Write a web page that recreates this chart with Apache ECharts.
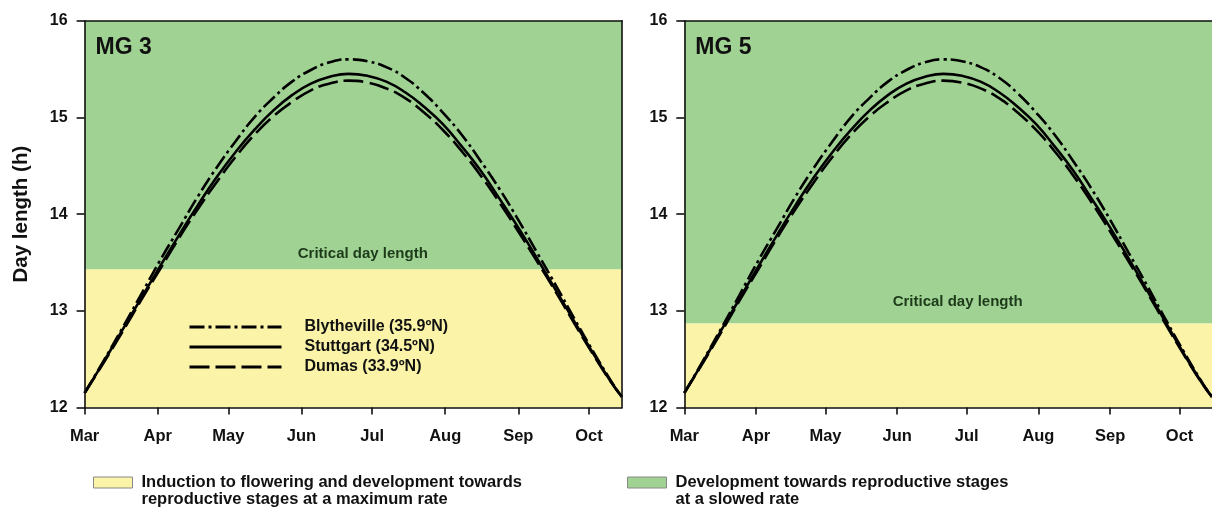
<!DOCTYPE html>
<html><head><meta charset="utf-8">
<script src="https://cdn.jsdelivr.net/npm/echarts@6/dist/echarts.min.js"></script>
<style>html,body{margin:0;padding:0;background:#fff}#c{width:1212px;height:508px}</style>
</head><body><div id="c"></div><script>
// day of season, counted from 1 March
const days = [0,8,16,24,32,40,48,56,64,72,80,88,96,104,112,120,128,136,144,152,160,168,176,184,192,200,208,216,224,228];
const blytheville = [12.15,12.48,12.82,13.17,13.52,13.85,14.18,14.48,14.75,15.00,15.20,15.37,15.49,15.57,15.60,15.58,15.52,15.41,15.25,15.05,14.82,14.55,14.26,13.94,13.60,13.26,12.91,12.57,12.25,12.11];
const stuttgart   = [12.15,12.47,12.80,13.13,13.46,13.78,14.09,14.38,14.64,14.87,15.07,15.23,15.35,15.42,15.45,15.43,15.37,15.26,15.11,14.93,14.70,14.45,14.16,13.86,13.54,13.21,12.88,12.55,12.24,12.11];
const dumas       = [12.15,12.46,12.78,13.11,13.43,13.75,14.05,14.33,14.59,14.82,15.01,15.16,15.28,15.35,15.38,15.36,15.30,15.20,15.05,14.87,14.65,14.40,14.12,13.82,13.51,13.19,12.86,12.54,12.24,12.11];
const monthTicks  = [0,31,61,92,122,153,184,214];
const monthLabels = ['Mar','Apr','May','Jun','Jul','Aug','Sep','Oct'];
const panelTitles = ['MG 3','MG 5'];
const criticalDayLength = [13.43, 12.87];
const xMin = 0, xMax = 228, yMin = 12, yMax = 16, yStep = 1;
const curveNames = ['Blytheville (35.9ºN)','Stuttgart (34.5ºN)','Dumas (33.9ºN)'];
const zoneNames = ['Induction to flowering and development towards\nreproductive stages at a maximum rate',
                   'Development towards reproductive stages\nat a slowed rate'];

const FONT = '"Liberation Sans", Arial, sans-serif';
const INK = '#111';
const YELLOW = '#faf3a8', GREEN = '#a0d393';

const toPairs = arr => days.map((d,i)=>[d, arr[i]]);
const curveData = [blytheville, stuttgart, dumas];
const curveTypes = [[15,4,3,4],'solid',[20,6]];

const grids = [
  {left: 84.6, top: 20.7, width: 537.4, height: 386.8},
  {left: 684.3, top: 20.7, width: 537.5, height: 386.8}
];

const xAxes = [], yAxes = [], series = [];
grids.forEach((g, gi) => {
  xAxes.push({
    type:'value', gridIndex: gi, min: xMin, max: xMax, z: 5,
    axisLine:{show:true, onZero:false, lineStyle:{color:INK, width:1.6}},
    axisTick:{show:true, length:7, customValues: monthTicks, lineStyle:{color:INK, width:1.6}},
    axisLabel:{show:true, customValues: monthTicks, margin: 20,
      formatter: v => monthLabels[monthTicks.indexOf(v)] || '',
      color: INK, fontSize: 16.5, fontWeight:'bold', fontFamily: FONT},
    splitLine:{show:false}
  });
  xAxes.push({
    type:'value', gridIndex: gi, position:'top', min:xMin, max:xMax, z: 5,
    axisLine:{show:true, onZero:false, lineStyle:{color:INK, width:1.6}},
    axisTick:{show:false}, axisLabel:{show:false}, splitLine:{show:false}
  });
  yAxes.push({
    type:'value', gridIndex: gi, min:yMin, max:yMax, interval:yStep, z: 5,
    name: gi === 0 ? 'Day length (h)' : '', nameLocation:'middle', nameGap: 53, nameRotate: 90,
    nameTextStyle:{color:INK, fontSize:20.5, fontWeight:'bold', fontFamily:FONT},
    axisLine:{show:true, onZero:false, lineStyle:{color:INK, width:1.6}},
    axisTick:{show:true, length:8, lineStyle:{color:INK, width:1.6}},
    axisLabel:{show:true, margin: 17, color:INK, fontSize:16, fontWeight:'bold', fontFamily:FONT},
    splitLine:{show:false}
  });
  yAxes.push({
    type:'value', gridIndex: gi, position:'right', min:yMin, max:yMax, z: 5,
    axisLine:{show: gi === 0, onZero:false, lineStyle:{color:INK, width:1.6}},
    axisTick:{show:false}, axisLabel:{show:false}, splitLine:{show:false}
  });
  const xi = gi*2, yi = gi*2;
  // zones
  series.push({
    name: zoneNames[0], type:'line', xAxisIndex: xi, yAxisIndex: yi, data: [], z: 1,
    markArea:{silent:true, itemStyle:{color:YELLOW},
      data:[[{xAxis:xMin, yAxis:yMin},{xAxis:xMax, yAxis:criticalDayLength[gi]}]]}
  });
  series.push({
    name: zoneNames[1], type:'line', xAxisIndex: xi, yAxisIndex: yi, data: [], z: 1,
    markArea:{silent:true, itemStyle:{color:GREEN},
      label:{show:true, position:'insideBottom', distance: gi === 0 ? 8 : 14, offset:[9.5,0],
        color:'#1d3a1b', fontSize:15, fontWeight:'bold', fontFamily:FONT},
      data:[[{name:'Critical day length', xAxis:xMin, yAxis:criticalDayLength[gi]},{xAxis:xMax, yAxis:yMax}]]}
  });
  curveData.forEach((arr, ci) => {
    series.push({
      name: curveNames[ci], type:'line', xAxisIndex: xi, yAxisIndex: yi, z: 3,
      data: toPairs(arr), smooth: true, showSymbol:false, symbol:'none',
      lineStyle:{color:'#000', width:2.6, type: curveTypes[ci]},
      itemStyle:{color:'#000'}
    });
  });
});

const option = {
  animation:false,
  backgroundColor:'#fff',
  textStyle:{fontFamily:FONT},
  title: panelTitles.map((t, i) => ({
    text: t, left: grids[i].left + 11, top: 36, padding: 0,
    textStyle:{color:INK, fontSize:23, fontWeight:'bold', fontFamily:FONT}
  })),
  grid: grids,
  xAxis: xAxes,
  yAxis: yAxes,
  legend: [
    {data: curveNames, orient:'vertical', left:188, top:318, padding:0, itemGap:2,
     itemWidth:92, itemHeight:14, selectedMode:false,
     itemStyle:{color:'rgba(0,0,0,0)', borderWidth:0, opacity:0},
     lineStyle:{opacity:1, width:3},
     textStyle:{color:INK, fontSize:16, lineHeight:18, fontWeight:'bold', fontFamily:FONT, padding:[0,0,0,18]}},
    {data:[{name:zoneNames[0], icon:'rect', itemStyle:{color:YELLOW, borderColor:'#888', borderWidth:1}}],
     left:93, top:457, padding:0, itemWidth:39, itemHeight:11, selectedMode:false,
     formatter: n => ' \n' + n,
     textStyle:{color:INK, fontSize:16.5, fontWeight:'bold', fontFamily:FONT, lineHeight:17, padding:[0,0,0,4]}},
    {data:[{name:zoneNames[1], icon:'rect', itemStyle:{color:GREEN, borderColor:'#888', borderWidth:1}}],
     left:627, top:457, padding:0, itemWidth:39, itemHeight:11, selectedMode:false,
     formatter: n => ' \n' + n,
     textStyle:{color:INK, fontSize:16.5, fontWeight:'bold', fontFamily:FONT, lineHeight:17, padding:[0,0,0,4]}}
  ],
  series: series
};
const chart = echarts.init(document.getElementById('c'), null, {renderer:'canvas'});
chart.setOption(option);
</script></body></html>
